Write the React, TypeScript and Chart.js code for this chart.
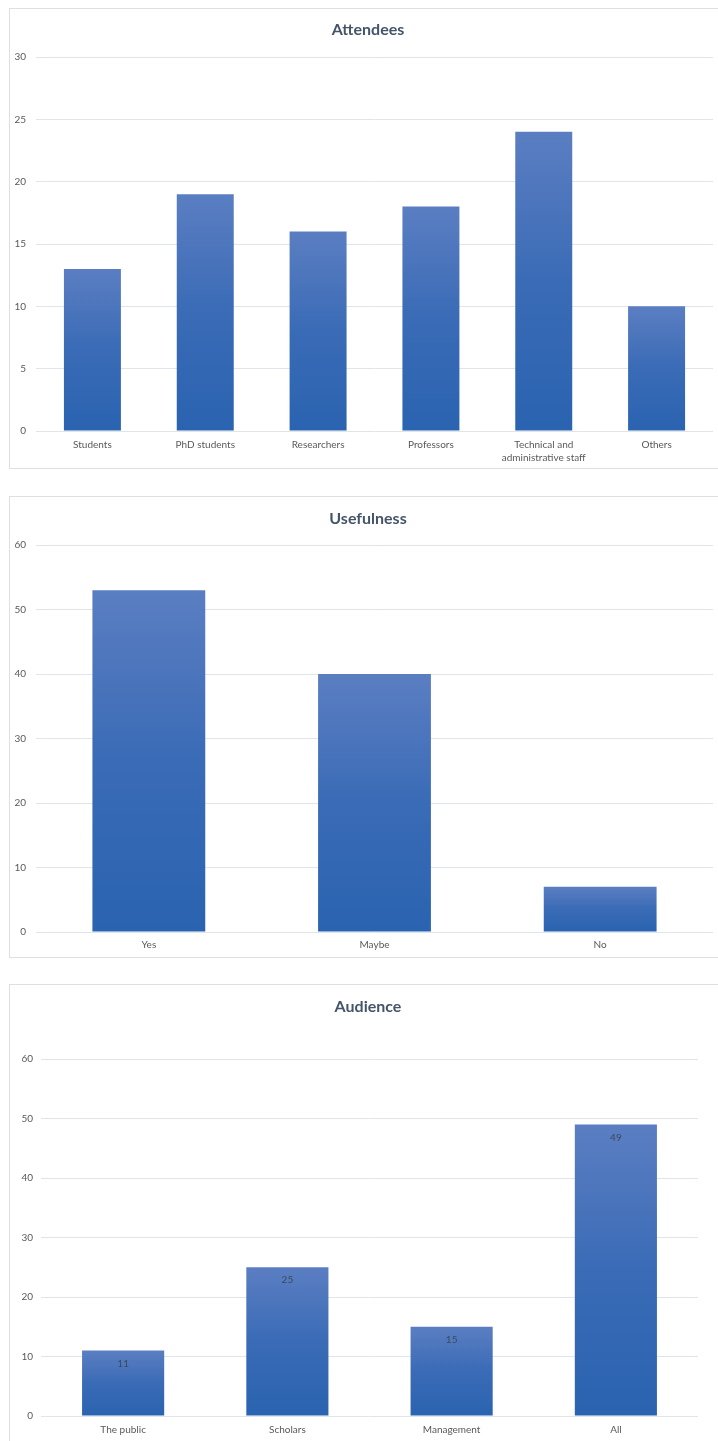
import React, { useEffect, useRef } from "react";
import { Chart, registerables } from "chart.js";

Chart.register(...registerables);

// ---- Data ----
const attendeeLabels: (string | string[])[] = [
  "Students",
  "PhD students",
  "Researchers",
  "Professors",
  ["Technical and", "administrative staff"],
  "Others",
];
const attendeeValues = [13, 19, 16, 18, 24, 10];

const usefulnessLabels = ["Yes", "Maybe", "No"];
const usefulnessValues = [53, 40, 7];

const audienceLabels = ["The public", "Scholars", "Management", "All"];
const audienceValues = [11, 25, 15, 49];

const attendeeYMax = 30;
const attendeeYStep = 5;
const usefulnessYMax = 60;
const usefulnessYStep = 10;
const audienceYMax = 60;
const audienceYStep = 10;

// ---- Styles ----
const FONT = "Lato, 'Open Sans', sans-serif";
const BAR_TOP = "#5b7ec2";
const BAR_BOTTOM = "#2a63b0";
const GRID = "#e0e5ec";
const TICK = "#595959";
const TITLE = "#44546a";
const BOX_BORDER = "#dcdfe4";

type Spec = {
  title: string;
  labels: (string | string[])[];
  values: number[];
  yMax: number;
  yStep: number;
  boxTop: number;
  boxHeight: number;
  borderBottom: boolean;
  yAxisWidth: number;
  xAxisHeight: number;
  plotTop: number;
  titleCenter: number;
  titleX: number;
  rightPad: number;
  yTickPad: number;
  xTickPad: number;
  barPct: number;
  showValues: boolean;
};

const valueLabelPlugin = {
  id: "valueLabels",
  afterDatasetsDraw(chart: any, _args: any, opts: any) {
    if (!opts || !opts.enabled) return;
    const ctx = chart.ctx;
    const meta = chart.getDatasetMeta(0);
    const data = chart.data.datasets[0].data as number[];
    ctx.save();
    ctx.font = `10px ${FONT}`;
    ctx.fillStyle = "#3b4a5e";
    ctx.textAlign = "center";
    ctx.textBaseline = "middle";
    meta.data.forEach((el: any, i: number) => {
      ctx.fillText(String(data[i]), el.x, el.y + 13);
    });
    ctx.restore();
  },
};

const panelTitlePlugin = {
  id: "panelTitle",
  afterDraw(chart: any, _args: any, opts: any) {
    if (!opts || !opts.text) return;
    const ctx = chart.ctx;
    ctx.save();
    ctx.font = `bold 16px ${FONT}`;
    ctx.fillStyle = TITLE;
    ctx.textAlign = "center";
    ctx.textBaseline = "middle";
    ctx.fillText(opts.text, opts.x, opts.y);
    ctx.restore();
  },
};

function BarPanel({ spec }: { spec: Spec }) {
  const ref = useRef<HTMLCanvasElement | null>(null);
  const canvasHeight = spec.boxHeight - 1 - (spec.borderBottom ? 1 : 0);
  const canvasWidth = 708;

  useEffect(() => {
    if (!ref.current) return;
    const chart = new Chart(ref.current, {
      type: "bar",
      data: {
        labels: spec.labels,
        datasets: [
          {
            data: spec.values,
            backgroundColor: (c: any) => {
              const ch = c.chart;
              const ys = ch.scales && ch.scales.y;
              if (!ys || c.type !== "data") return BAR_BOTTOM;
              const top = ys.getPixelForValue(c.raw);
              const bot = ys.getPixelForValue(0);
              if (!isFinite(top) || !isFinite(bot) || top === bot) return BAR_BOTTOM;
              const g = ch.ctx.createLinearGradient(0, top, 0, bot);
              g.addColorStop(0, BAR_TOP);
              g.addColorStop(0.5, "#3a6bb6");
              g.addColorStop(1, BAR_BOTTOM);
              return g;
            },
            borderWidth: 0,
            categoryPercentage: 1,
            barPercentage: spec.barPct,
          },
        ],
      },
      options: {
        responsive: false,
        animation: false,
        devicePixelRatio: 1,
        layout: { padding: { left: 0, right: spec.rightPad, top: spec.plotTop, bottom: 0 } },
        plugins: {
          legend: { display: false },
          tooltip: { enabled: false },
          title: { display: false },
          panelTitle: { text: spec.title, x: spec.titleX, y: spec.titleCenter },
          valueLabels: { enabled: spec.showValues },
        } as any,
        scales: {
          x: {
            grid: { display: false, drawTicks: false },
            border: { display: false },
            ticks: {
              color: TICK,
              font: { family: FONT, size: 10, lineHeight: 1.3 },
              padding: spec.xTickPad,
              maxRotation: 0,
              autoSkip: false,
            },
            afterFit: (s: any) => {
              s.height = spec.xAxisHeight;
            },
          },
          y: {
            min: 0,
            max: spec.yMax,
            grid: { color: GRID, lineWidth: 1, drawTicks: false },
            border: { display: false },
            ticks: {
              stepSize: spec.yStep,
              color: TICK,
              font: { family: FONT, size: 10 },
              padding: spec.yTickPad,
            },
            afterFit: (s: any) => {
              s.width = spec.yAxisWidth;
            },
          },
        },
      } as any,
      plugins: [valueLabelPlugin, panelTitlePlugin],
    });
    return () => chart.destroy();
  }, [spec]);

  return (
    <div
      style={{
        position: "absolute",
        left: 9,
        top: spec.boxTop,
        width: 709,
        height: spec.boxHeight,
        boxSizing: "border-box",
        borderLeft: `1px solid ${BOX_BORDER}`,
        borderTop: `1px solid ${BOX_BORDER}`,
        borderBottom: spec.borderBottom ? `1px solid ${BOX_BORDER}` : "none",
        background: "#ffffff",
      }}
    >
      <canvas
        ref={ref}
        width={canvasWidth}
        height={canvasHeight}
        style={{ display: "block", width: canvasWidth, height: canvasHeight }}
      />
    </div>
  );
}

const specs: Spec[] = [
  {
    title: "Attendees",
    labels: attendeeLabels,
    values: attendeeValues,
    yMax: attendeeYMax,
    yStep: attendeeYStep,
    boxTop: 8,
    boxHeight: 461,
    borderBottom: true,
    yAxisWidth: 26,
    xAxisHeight: 37,
    plotTop: 48,
    titleCenter: 21,
    titleX: 358,
    rightPad: 5,
    yTickPad: 10,
    xTickPad: 7,
    barPct: 0.505,
    showValues: false,
  },
  {
    title: "Usefulness",
    labels: usefulnessLabels,
    values: usefulnessValues,
    yMax: usefulnessYMax,
    yStep: usefulnessYStep,
    boxTop: 496,
    boxHeight: 462,
    borderBottom: true,
    yAxisWidth: 26,
    xAxisHeight: 25,
    plotTop: 48,
    titleCenter: 22,
    titleX: 358,
    rightPad: 5,
    yTickPad: 10,
    xTickPad: 6,
    barPct: 0.5,
    showValues: false,
  },
  {
    title: "Audience",
    labels: audienceLabels,
    values: audienceValues,
    yMax: audienceYMax,
    yStep: audienceYStep,
    boxTop: 984,
    boxHeight: 457,
    borderBottom: false,
    yAxisWidth: 31,
    xAxisHeight: 25,
    plotTop: 74,
    titleCenter: 22,
    titleX: 358,
    rightPad: 20,
    yTickPad: 8,
    xTickPad: 7,
    barPct: 0.5,
    showValues: true,
  },
];

export default function App() {
  useEffect(() => {
    document.body.style.overflow = "hidden";
    document.documentElement.style.overflow = "hidden";
  }, []);
  return (
    <div>
      {specs.map((s) => (
        <BarPanel key={s.title} spec={s} />
      ))}
    </div>
  );
}
